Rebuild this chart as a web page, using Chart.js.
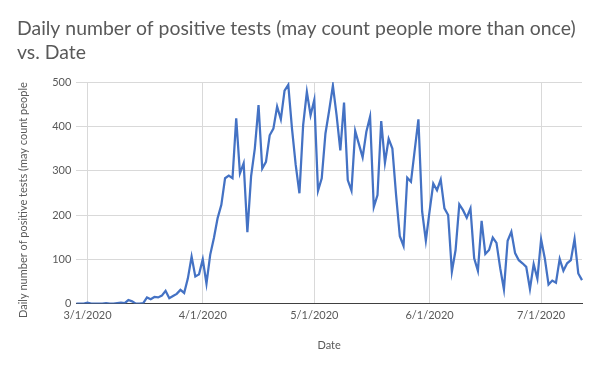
<!DOCTYPE html>
<html>
<head>
<meta charset="utf-8">
<script src="https://cdn.jsdelivr.net/npm/chart.js@4/dist/chart.umd.min.js"></script>
<style>
    html, body { margin: 0; padding: 0; background: #fff; }
</style>
</head>
<body>
<canvas id="myChart" width="600" height="371"></canvas>
<script>
// one value per day, 2/27/2020 through 7/12/2020
const FIRST_DAY = '2020-02-27';
const positives = [
    0, 0, 0, 2, 0, 0, 0, 0, 1, 0,
    0, 1, 2, 1, 8, 5, 0, 0, 1, 14,
    10, 15, 14, 18, 29, 12, 17, 22, 31, 24,
    57, 106, 61, 66, 100, 45, 110, 148, 193, 223,
    283, 289, 283, 418, 294, 317, 161, 287, 350, 448,
    305, 320, 380, 395, 445, 416, 481, 494, 395, 313,
    249, 403, 478, 425, 460, 255, 283, 384, 436, 492,
    425, 346, 454, 279, 255, 390, 360, 330, 388, 422,
    218, 245, 412, 318, 372, 350, 245, 152, 130, 284,
    275, 346, 416, 208, 142, 208, 271, 256, 280, 215,
    200, 72, 121, 224, 211, 194, 215, 102, 74, 187,
    112, 121, 149, 137, 80, 32, 142, 162, 114, 98,
    91, 83, 33, 89, 56, 145, 102, 43, 52, 47,
    101, 74, 91, 98, 146, 68, 53
];
const tickLabels = ['3/1/2020', '4/1/2020', '5/1/2020', '6/1/2020', '7/1/2020'];
const yTicks = [0, 100, 200, 300, 400, 500];

// categories: the dates
const dates = [];
let day = new Date(FIRST_DAY + 'T12:00:00');
for (let i = 0; i < positives.length; i++) {
    dates.push(`${day.getMonth() + 1}/${day.getDate()}/${day.getFullYear()}`);
    day.setDate(day.getDate() + 1);
}

const isMonthTick = (i) => tickLabels.includes(dates[i]);

const grey = '#595959';
const font = { family: 'Lato, "Liberation Sans", sans-serif', size: 11, lineHeight: 1.2 };

const data = {
    labels: dates,
    datasets: [{
        label: 'Daily number of positive tests',
        data: positives,
        borderColor: '#4472C4',
        borderWidth: 2.25,
        pointRadius: 0,
        tension: 0,
        fill: false
    }]
};

const config = {
    type: 'line',
    data: data,
    options: {
        responsive: false,
        animation: false,
        layout: { padding: { left: 17, right: 18, top: 17, bottom: 19 } },
        plugins: {
            legend: { display: false },
            tooltip: { enabled: false },
            title: {
                display: true,
                align: 'start',
                text: ['Daily number of positive tests (may count people more than once)', 'vs. Date'],
                color: grey,
                font: { family: font.family, size: 19.4, weight: 'normal', lineHeight: 1.24 },
                padding: { top: 0, bottom: 17 }
            }
        },
        scales: {
            x: {
                type: 'category',
                offset: false,
                grid: {
                    drawTicks: false,
                    color: (ctx) => (ctx.tick && isMonthTick(ctx.index)) ? '#d9d9d9' : 'rgba(0,0,0,0)'
                },
                border: { display: true, color: '#404040', width: 1 },
                ticks: {
                    autoSkip: false,
                    maxRotation: 0,
                    color: grey,
                    font: font,
                    padding: 5,
                    callback: function (val, i) { return isMonthTick(i) ? dates[i] : ''; }
                },
                title: {
                    display: true,
                    text: 'Date',
                    color: grey,
                    font: font,
                    padding: { top: 12, bottom: 0 }
                }
            },
            y: {
                min: 0,
                max: 500,
                afterBuildTicks: (scale) => { scale.ticks = yTicks.map(v => ({ value: v })); },
                grid: { drawTicks: false, color: '#d9d9d9' },
                border: { display: false },
                ticks: { color: grey, font: font, padding: 5 },
                title: {
                    display: true,
                    text: 'Daily number of positive tests (may count people',
                    align: 'end',
                    color: grey,
                    font: font,
                    padding: { top: 0, bottom: 17 }
                }
            }
        }
    }
};

const ctx = document.getElementById('myChart').getContext('2d');
const chart = new Chart(ctx, config);
</script>
</body>
</html>
